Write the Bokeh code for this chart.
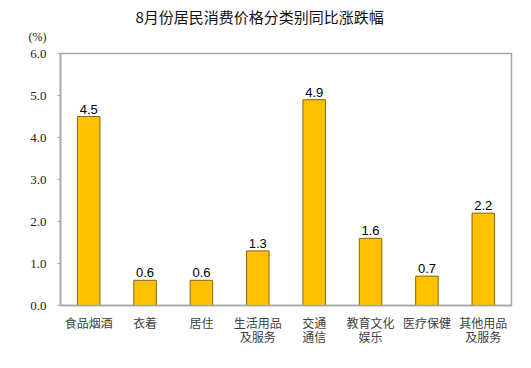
from bokeh.plotting import figure
from bokeh.models import Range1d, FixedTicker, Title, LinearAxis, ColumnDataSource, NumeralTickFormatter
from bokeh.core.properties import value
from bokeh.embed import file_html
from bokeh.resources import INLINE

categories = ["食品烟酒", "衣着", "居住", "生活用品及服务", "交通通信", "教育文化娱乐", "医疗保健", "其他用品及服务"]
label_line1 = ["食品烟酒", "衣着", "居住", "生活用品", "交通", "教育文化", "医疗保健", "其他用品"]
label_line2 = [" ", " ", " ", "及服务", "通信", "娱乐", " ", "及服务"]
values = [4.5, 0.6, 0.6, 1.3, 4.9, 1.6, 0.7, 2.2]
value_texts = ["4.5", "0.6", "0.6", "1.3", "4.9", "1.6", "0.7", "2.2"]
y_ticks = [0, 1, 2, 3, 4, 5, 6]
title_text = "8月份居民消费价格分类别同比涨跌幅"
unit_text = "(%)"

x_pos = list(range(len(categories)))
src = ColumnDataSource(dict(x=x_pos, cat=categories, val=values, txt=value_texts))

p = figure(width=525, height=362, x_range=Range1d(-0.5, len(categories) - 0.5), y_range=Range1d(0, 6),
           output_backend="svg", toolbar_location=None,
           min_border_left=60, min_border_right=14, min_border_top=53, min_border_bottom=57)
p.title = None
p.background_fill_color = "white"
p.border_fill_color = "white"
p.outline_line_color = "#A6A6A6"
p.outline_line_width = 1.5
p.grid.visible = False

p.vbar(x="x", top="val", width=0.4, source=src, fill_color="#FFC000", line_color="#7F6A1A", line_width=1)
p.text(x="x", y="val", text="txt", source=src, text_align="center", text_baseline="bottom",
       y_offset=-3, text_font=value("Liberation Sans"), text_font_size="13px", text_color="#000000")

serif = "Liberation Serif"
p.yaxis.ticker = FixedTicker(ticks=y_ticks)
p.yaxis.formatter = NumeralTickFormatter(format="0.0")
p.yaxis.major_label_text_font = serif
p.yaxis.major_label_text_font_size = "13px"
p.yaxis.major_label_text_color = "#222222"
p.yaxis.axis_line_color = "#A6A6A6"
p.yaxis.axis_line_width = 1.5
p.yaxis.major_tick_line_color = "#A6A6A6"
p.yaxis.major_tick_in = 0
p.yaxis.major_tick_out = 3
p.yaxis.minor_tick_line_color = None
p.yaxis.major_label_standoff = 11

p.xaxis.ticker = FixedTicker(ticks=x_pos)
p.xaxis.major_label_overrides = dict(zip(x_pos, label_line1))
p.xaxis.major_label_text_font = "Noto Sans CJK SC"
p.xaxis.major_label_text_font_size = "12px"
p.xaxis.major_label_text_color = "#404040"
p.xaxis.axis_line_color = "#A6A6A6"
p.xaxis.axis_line_width = 1.5
p.xaxis.major_tick_line_color = None
p.xaxis.minor_tick_line_color = None
p.xaxis.major_label_standoff = 2

ax2 = LinearAxis(ticker=FixedTicker(ticks=x_pos),
                 major_label_overrides=dict(zip(x_pos, label_line2)),
                 major_label_text_font="Noto Sans CJK SC", major_label_text_font_size="12px",
                 major_label_text_color="#404040", axis_line_color=None,
                 major_tick_line_color=None, minor_tick_line_color=None,
                 major_label_standoff=-12)
p.add_layout(ax2, "below")

p.add_layout(Title(text=unit_text, align="left", offset=-32, text_font=serif,
                   text_font_size="12px", text_font_style="normal", text_color="#222222",
                   standoff=19), "above")
p.add_layout(Title(text=title_text, align="left", offset=75, text_font="Noto Sans CJK SC",
                   text_font_size="15px", text_font_style="normal", text_color="#111111",
                   standoff=-16), "above")

open("out.html", "w").write(file_html(p, INLINE))
